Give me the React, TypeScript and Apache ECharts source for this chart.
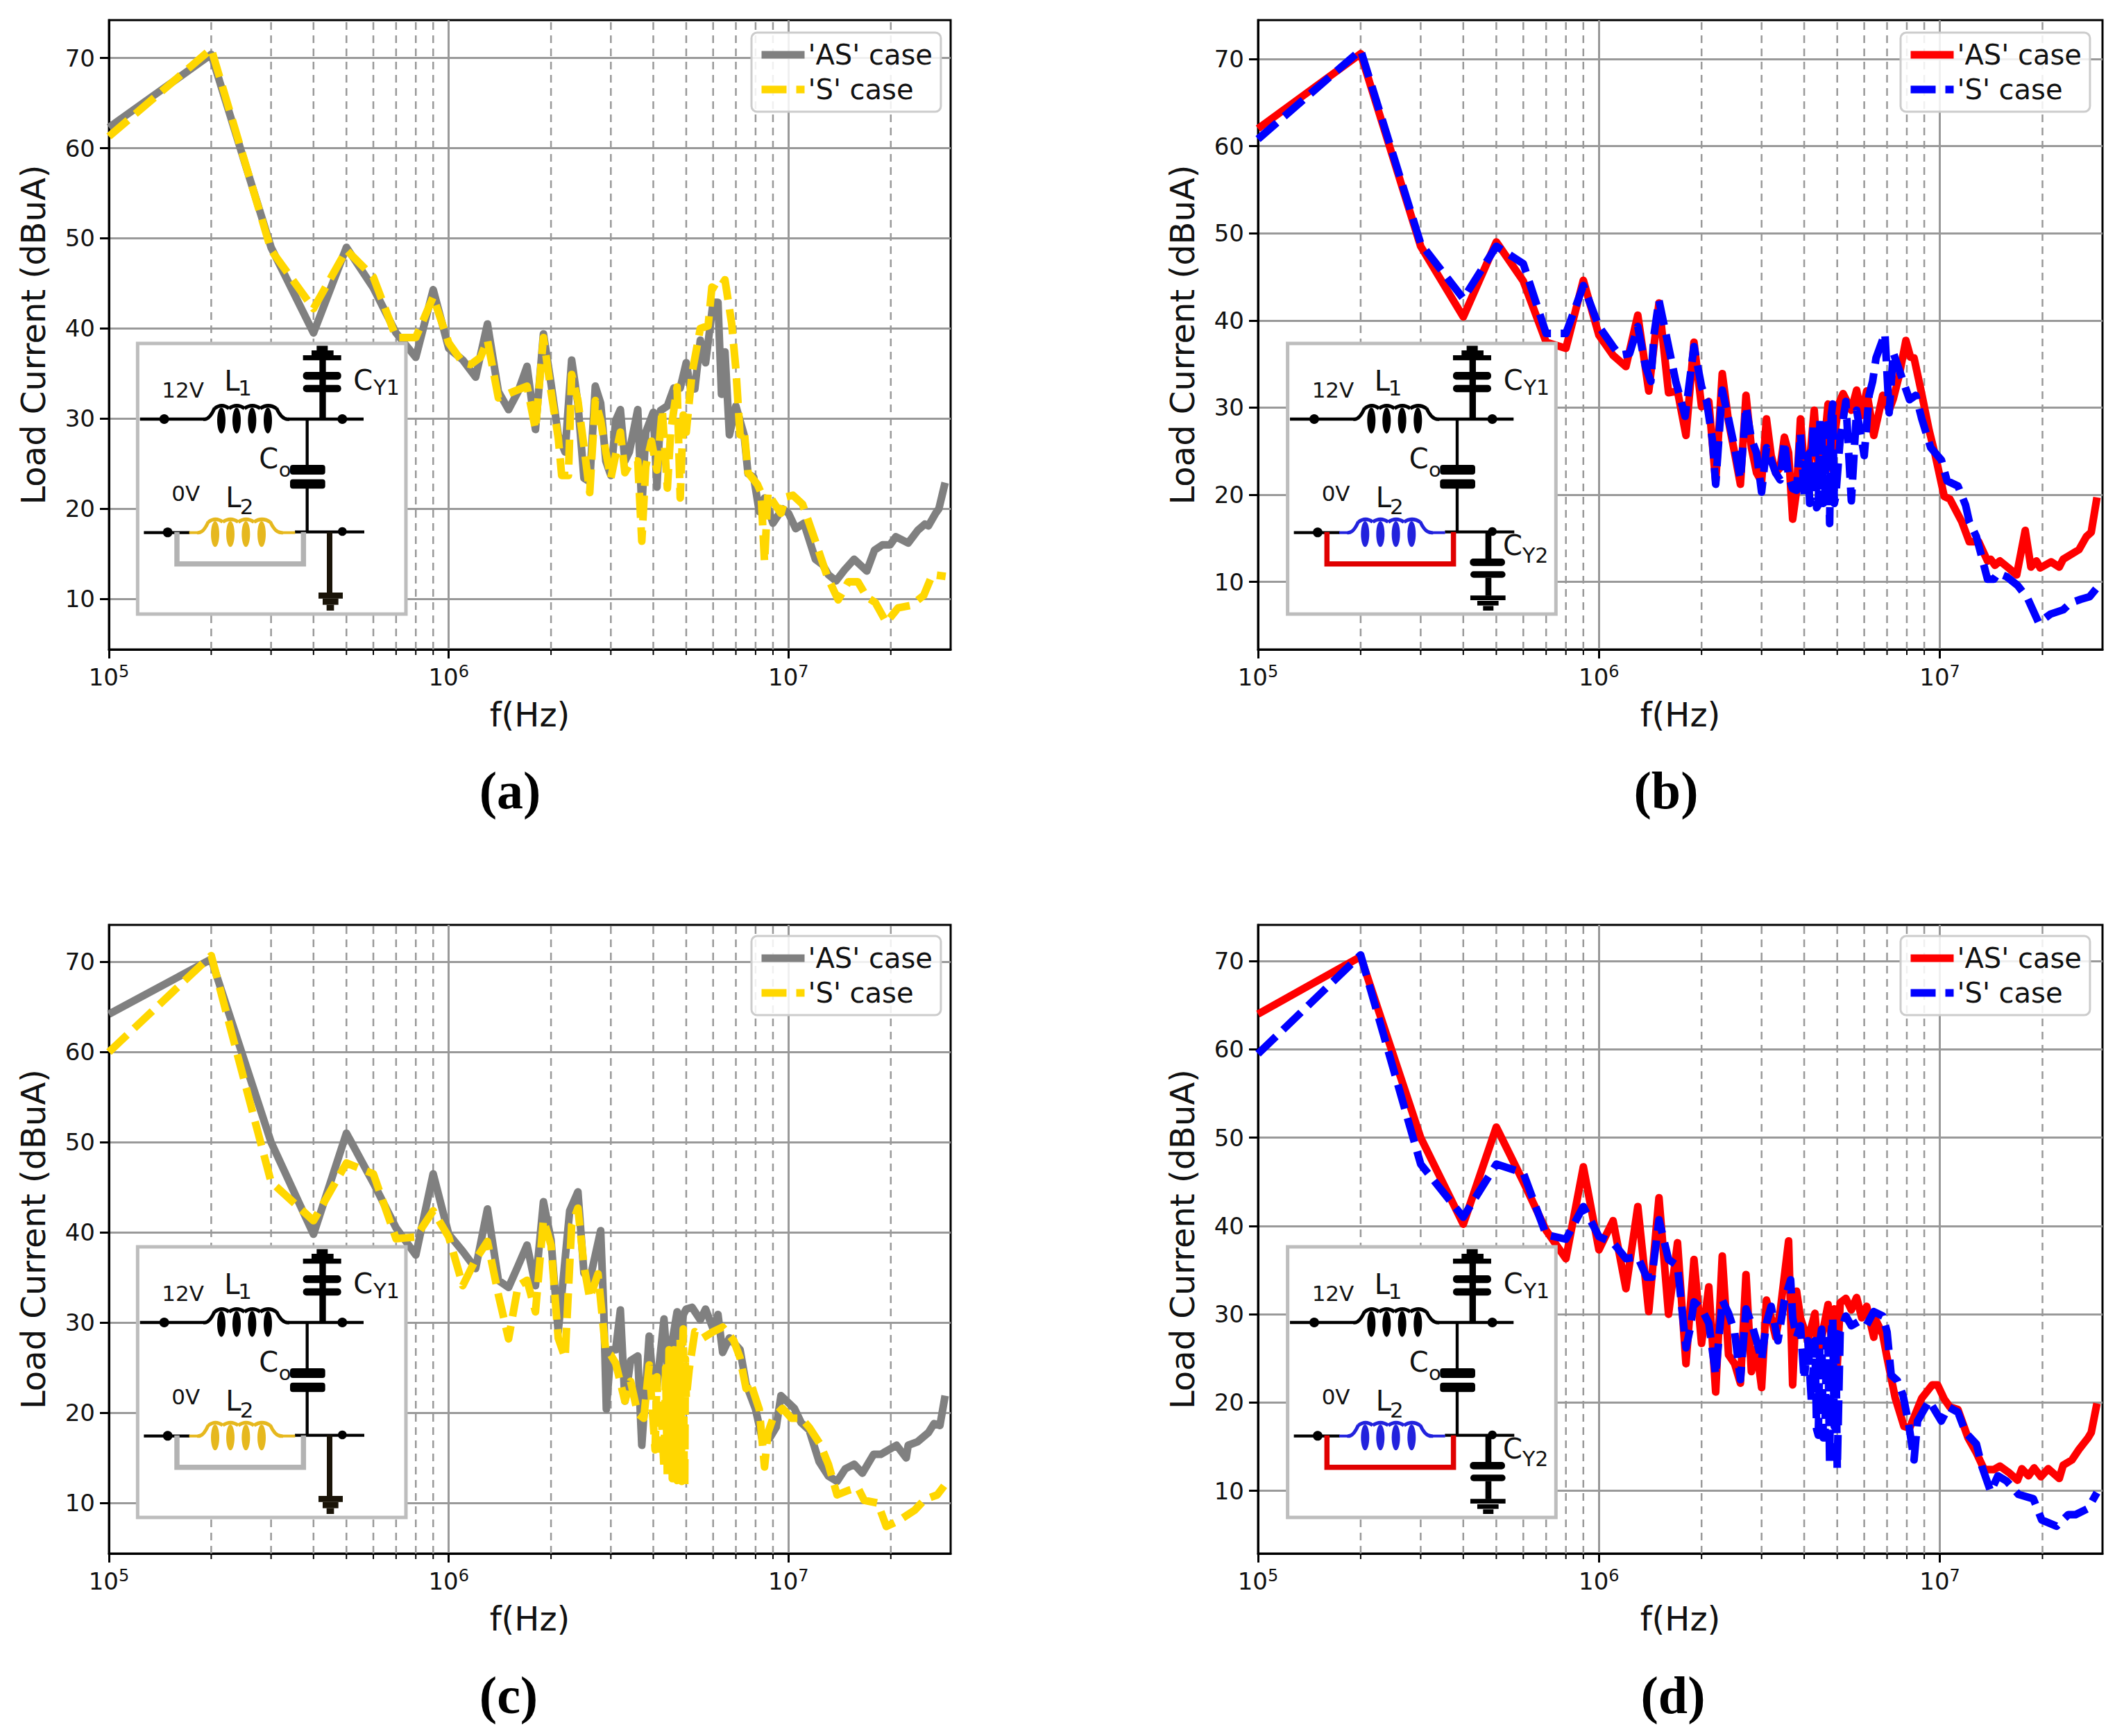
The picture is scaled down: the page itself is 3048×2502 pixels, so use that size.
import React, { useEffect, useRef } from "react";
import * as echarts from "echarts";

type P = [number, number];

// [frequency in MHz, load current in dBuA]
const A_AS: P[] = [[0.1,62.3],[0.2,70.4],[0.3,49],[0.4,39.5],[0.5,49],[0.6,44.5],[0.7,39.5],[0.8,36.8],[0.9,44.3],[1,37.8],[1.1,36.5],[1.2,34.6],[1.3,40.5],[1.4,33],[1.5,31],[1.6,33],[1.7,35.8],[1.8,28.8],[1.9,39.4],[2,33.9],[2.1,28.2],[2.2,26.3],[2.3,36.5],[2.4,31.7],[2.5,23.4],[2.6,23],[2.7,33.6],[2.8,31.7],[2.9,25.3],[3,23.7],[3.1,29.8],[3.2,31],[3.3,25.3],[3.4,26.3],[3.6,31],[3.7,20],[3.8,28.5],[4,30.7],[4.1,22.4],[4.2,30.9],[4.4,31.4],[4.6,33.4],[4.8,33.4],[5,36.2],[5.15,33.3],[5.3,33.3],[5.5,38.7],[5.7,36.2],[6,42.9],[6.2,42.9],[6.35,32.7],[6.5,37.4],[6.7,28.2],[7,31.4],[7.4,28.2],[7.6,23.9],[7.9,23.5],[8.2,19.7],[8.5,21.2],[9,18.4],[9.6,20],[10,19.5],[10.5,17.8],[11.1,18.4],[12,14.4],[12.6,13.8],[13.1,12.7],[13.8,12],[14.6,13.2],[15.6,14.4],[17,13.1],[17.9,15.4],[18.9,16],[19.9,16],[20.7,16.9],[22.5,16.2],[24,17.6],[25.2,18.3],[25.8,18.1],[27.1,19.5],[27.7,20],[28.9,22.9]];
const A_S: P[] = [[0.1,61.3],[0.2,71],[0.3,48.7],[0.4,42.2],[0.5,48.7],[0.6,45.7],[0.7,39],[0.8,39],[0.9,43.5],[1,38.4],[1.1,36.2],[1.16,36],[1.24,36.8],[1.3,38.7],[1.4,32.3],[1.55,33],[1.7,33.6],[1.8,28.8],[1.9,39],[2,33],[2.1,27.9],[2.15,23.7],[2.25,23.7],[2.3,34.9],[2.4,32],[2.5,26.9],[2.6,21.8],[2.7,32],[2.8,29.8],[2.9,26.3],[3,23.4],[3.2,28.5],[3.3,24],[3.45,25.3],[3.6,25.3],[3.7,16.4],[3.8,24.7],[3.95,27.5],[4.1,24.3],[4.25,31],[4.4,22.3],[4.5,28.5],[4.7,33.5],[4.8,21.2],[4.9,30.4],[5,28.5],[5.2,35],[5.5,40],[5.8,40.3],[5.95,44.6],[6.2,44.2],[6.5,45.4],[6.8,40.6],[7,35.5],[7.2,28.2],[7.4,28.8],[7.6,24],[8.1,22.7],[8.3,21.8],[8.5,14.1],[8.7,21.8],[9,20.8],[9.5,19.5],[9.8,21.3],[10.3,21.5],[11,20.5],[12,16.4],[13,12.5],[14,9.9],[15,11.9],[16,11.9],[17,10.2],[18,9.6],[19.4,7.4],[21,9],[23,9.3],[25,10.4],[26.5,12.7],[29,12.5]];

const B_AS: P[] = [[0.1,62],[0.2,70.6],[0.3,48.5],[0.4,40.4],[0.5,49],[0.6,44.5],[0.7,37.5],[0.8,36.8],[0.9,44.6],[1,38.3],[1.1,36],[1.2,34.7],[1.3,40.6],[1.4,31.9],[1.5,42],[1.6,31.7],[1.7,31.9],[1.8,26.8],[1.9,37.5],[2,30.1],[2.1,30.7],[2.2,21.5],[2.3,33.9],[2.4,28.4],[2.5,24.8],[2.6,21.2],[2.7,31.4],[2.8,25.4],[2.9,22.5],[3,21.5],[3.1,28.7],[3.2,24.5],[3.3,22.5],[3.4,23.1],[3.5,26.6],[3.6,24.8],[3.7,17.2],[3.8,20.5],[3.9,28.7],[4,23.1],[4.1,21.5],[4.28,29.7],[4.4,23],[4.6,26.4],[4.7,30.4],[4.8,23],[4.9,26.4],[5.05,30.4],[5.2,31.6],[5.5,29.7],[5.7,32],[5.9,29.1],[6.1,31.9],[6.4,26.8],[6.8,31.4],[7.1,29.7],[7.3,31],[7.6,33.7],[7.95,37.7],[8.2,35.8],[8.4,35.7],[8.8,32],[9.3,27.4],[9.7,24.5],[10.3,19.8],[10.7,19.5],[11.6,16.9],[12.2,14.6],[13,14.6],[13.8,12.4],[14.1,12.6],[14.5,11.9],[15,12.4],[15.9,11.6],[16.8,10.8],[17.8,15.9],[18.5,11.7],[19.2,12.4],[19.7,11.6],[21.2,12.3],[22.4,11.7],[23,12.6],[25.6,13.7],[26.9,15.2],[27.8,15.7],[28.9,19.7]];
const B_S: P[] = [[0.1,60.8],[0.2,71],[0.3,48.8],[0.4,42.5],[0.5,48.5],[0.6,46.5],[0.7,38.5],[0.8,38.5],[0.9,44],[1,39.3],[1.1,37],[1.15,36],[1.23,36.2],[1.3,39.3],[1.37,34.7],[1.42,33],[1.45,38.3],[1.5,42.3],[1.55,39.6],[1.68,33],[1.79,29],[1.9,37],[2,32.4],[2.07,30.7],[2.15,26.4],[2.2,21.2],[2.3,32],[2.4,28.7],[2.5,25.4],[2.6,21.8],[2.7,30.1],[2.8,26.4],[2.9,24.8],[3,20.3],[3.1,25.4],[3.3,22.5],[3.4,21.7],[3.5,26.1],[3.6,22.1],[3.7,20.7],[3.8,20.5],[3.9,27],[4,20],[4.05,25],[4.1,24.8],[4.15,19],[4.2,19.8],[4.25,28],[4.3,27.8],[4.35,18.5],[4.4,18.8],[4.45,28.5],[4.5,28],[4.55,19],[4.6,19.2],[4.65,28],[4.7,27],[4.75,16.7],[4.8,29],[4.85,30.4],[4.9,19],[4.95,19.8],[5.1,26.4],[5.3,30.7],[5.5,19.3],[5.7,29.7],[6,24.5],[6.2,31.4],[6.35,33],[6.5,35.7],[6.9,38.5],[7.1,29.4],[7.3,36.3],[7.65,34],[8.15,30.9],[8.5,31.4],[8.85,28.7],[9.4,25.4],[10.1,24],[10.5,21.6],[11.3,21],[11.9,18.8],[12.2,16.9],[12.8,15.2],[13.8,10.3],[14.4,10.3],[14.8,11],[15.7,10.6],[16.9,9.6],[18.1,8.1],[19.5,5.3],[21.1,6.3],[23,6.8],[24.2,7.6],[25.9,8],[27.5,8.3],[29,9.4]];

const C_AS: P[] = [[0.1,64.2],[0.2,70.3],[0.3,50],[0.4,39.8],[0.5,51],[0.6,45.5],[0.7,40.5],[0.8,37.5],[0.9,46.5],[1,39.8],[1.1,37.9],[1.2,36],[1.3,42.6],[1.4,34.7],[1.5,33.9],[1.6,36.3],[1.7,38.6],[1.8,34.1],[1.9,43.4],[2,39.2],[2.1,29],[2.27,42.4],[2.4,44.5],[2.5,35.5],[2.6,34.7],[2.8,40.2],[2.86,31.2],[2.91,20.4],[3,27],[3.1,27],[3.2,31.4],[3.3,21.3],[3.43,25.8],[3.6,26.3],[3.7,16.4],[3.89,28.5],[4,22.9],[4.1,22.9],[4.3,30.4],[4.45,22.9],[4.55,28],[4.7,31.2],[4.8,26.4],[4.9,30.9],[5,31.5],[5.2,31.7],[5.5,30.3],[5.7,31.5],[6,29.3],[6.2,30.9],[6.4,26.7],[6.7,28.3],[7.2,27],[7.5,23.2],[8,20.4],[8.4,16.8],[8.8,17.2],[9.2,18.4],[9.5,21.9],[10.4,20.5],[10.9,18.9],[11.5,18.1],[12.3,14.6],[13.1,13],[13.9,12.4],[14.7,13.8],[15.6,14.3],[16.5,13.3],[17.8,15.4],[18.7,15.4],[20.8,16.4],[22.2,15],[22.5,16.4],[24,16.8],[25.8,17.8],[26.8,18.8],[27.9,18.6],[28.9,21.9]];
const C_S: P[] = [[0.1,60],[0.2,70.7],[0.3,45.6],[0.4,41.3],[0.5,47.7],[0.6,46.5],[0.7,39.3],[0.8,39.5],[0.9,42.4],[1,39.5],[1.04,37.3],[1.1,34.1],[1.2,37],[1.3,39],[1.4,33.1],[1.5,28.2],[1.6,34.1],[1.7,34.7],[1.8,31.2],[1.9,41.4],[2,38.6],[2.1,28.3],[2.2,26.1],[2.3,40.8],[2.4,42.7],[2.5,36.3],[2.6,32.7],[2.75,35.4],[2.9,26.7],[3,26.4],[3.1,25.5],[3.3,21.3],[3.43,23.5],[3.6,19.9],[3.75,19.4],[3.89,25.3],[4.05,15.9],[4.1,24],[4.15,16],[4.2,21.6],[4.3,14],[4.35,25],[4.4,12.7],[4.45,27],[4.5,14],[4.53,26.1],[4.55,12.7],[4.6,27],[4.63,13],[4.65,25.5],[4.7,12.5],[4.73,27],[4.77,13],[4.8,28.3],[4.85,12.4],[4.88,27],[4.9,29.3],[4.93,13],[4.95,12],[4.97,26],[5,21.6],[5.1,24.8],[5.3,29],[5.6,28.3],[6,29],[6.4,29.5],[6.9,28],[7.2,26.1],[7.5,22.7],[7.7,23.5],[8.2,20.4],[8.5,14],[8.7,17.8],[9,19.4],[9.6,20.5],[10.2,19.4],[10.9,19.4],[11.5,18.4],[12.4,16.5],[13.1,14.3],[13.9,10.9],[15,11.4],[16,11.7],[16.7,10.3],[18.3,10],[19.4,7.4],[21,8],[23.5,9.2],[25.2,10.4],[27.4,10.9],[28.7,11.9]];

const D_AS: P[] = [[0.1,64],[0.2,70.5],[0.3,50],[0.4,40.2],[0.5,51.2],[0.6,45],[0.7,39.5],[0.8,36.3],[0.9,46.7],[1,37.3],[1.1,40.6],[1.2,32.9],[1.3,42.2],[1.4,30.3],[1.5,43.2],[1.6,30],[1.7,38.1],[1.8,24.4],[1.9,36.2],[2,26.7],[2.1,33.1],[2.2,21.2],[2.3,36.6],[2.4,25.4],[2.5,24.4],[2.6,22.2],[2.7,34.5],[2.8,23.5],[2.9,26.1],[3,21.7],[3.1,31.6],[3.2,29.6],[3.3,27.4],[3.4,30.3],[3.6,38.3],[3.7,22],[3.8,32.6],[3.9,29.6],[4,28.3],[4.1,27],[4.3,30.1],[4.4,25.4],[4.7,31.1],[4.8,27.4],[4.9,30.6],[5,24.1],[5.1,31.3],[5.3,31.8],[5.5,30.5],[5.7,31.9],[5.9,29.6],[6.1,30.9],[6.4,27.4],[6.5,29.3],[6.8,27.7],[7,25.1],[7.4,20.5],[7.85,17.3],[8.15,17.1],[8.85,20.5],[9.5,22],[9.85,22],[10.3,20.4],[10.7,19.5],[11.3,19.2],[12.1,16],[12.8,14.3],[13.5,12.4],[14.4,12.4],[15,12.8],[15.9,12.1],[16.9,11.2],[17.4,12.5],[18.2,11.7],[18.9,12.6],[19.8,11.6],[20.8,12.5],[22.4,11.4],[23,12.9],[24.4,13.5],[25.6,14.7],[27.2,16],[27.8,16.6],[28.9,19.9]];
const D_S: P[] = [[0.1,59.5],[0.2,70.7],[0.3,47],[0.4,41],[0.5,47],[0.6,46],[0.7,39],[0.8,38.5],[0.9,42.2],[1,38.8],[1.1,38.1],[1.2,36.3],[1.3,36.5],[1.38,34.2],[1.43,34.2],[1.5,40.7],[1.6,36.2],[1.7,35.5],[1.8,26.2],[1.85,28.3],[1.9,31.4],[2,30.6],[2.1,29],[2.2,23.1],[2.3,31.6],[2.4,30.1],[2.5,28],[2.6,22.6],[2.7,30.6],[2.8,29],[2.9,27],[3,24.8],[3.1,29],[3.2,30.9],[3.35,27],[3.5,31.6],[3.65,33.9],[3.7,29.6],[3.8,27.4],[3.9,28.7],[4,22.6],[4.1,27],[4.2,20.2],[4.3,27],[4.35,17],[4.4,16.3],[4.45,27],[4.5,28.3],[4.55,16],[4.6,16],[4.65,27],[4.7,26],[4.75,13.2],[4.8,28],[4.85,29.6],[4.9,17.3],[4.95,28],[5,12.5],[5.1,28],[5.3,29.8],[5.5,28.7],[5.8,29.2],[6.1,28.8],[6.4,30.3],[6.8,29.8],[7,28],[7.2,23.1],[7.5,22.5],[7.8,20.8],[8.1,17.6],[8.4,13.5],[8.6,17.9],[9.3,20.2],[10.1,17.9],[10.6,19.5],[11.3,18.9],[11.9,16.6],[12.8,15.3],[13.3,12.7],[14.1,9.9],[14.8,11.7],[15.7,11.1],[17,9.6],[18.8,9.1],[19.9,6.7],[22,6],[23.8,7.3],[25,7.3],[27.2,8],[28.9,9.8]];

const MINOR_FREQS = [2e5,3e5,4e5,5e5,6e5,7e5,8e5,9e5,2e6,3e6,4e6,5e6,6e6,7e6,8e6,9e6,2e7];
const MAJOR_FREQS = [1e5,1e6,1e7];
const Y_TICKS = [10,20,30,40,50,60,70];
const AS_NAME = "'AS' case";
const S_NAME = "'S' case";
const FONT = "DejaVu Sans";
const LINE_W = 11;

type Panel = {
  tag: string; ox: number; oy: number;
  left: number; right: number; top: number; bottom: number;
  yMin: number; yMax: number;
  as: P[]; s: P[]; asColor: string; sColor: string;
  labelX: number; labelY: number;
  legendX: number; legendY: number;
  boxX: number; boxY: number;
  coil: string; bypass: string; cy2: boolean;
};

const panels: Panel[] = [
  { tag: "(a)", ox: 0, oy: 0, left: 157, right: 1370, top: 29, bottom: 936, yMin: 4.4, yMax: 74.2, as: A_AS, s: A_S, asColor: "#808080", sColor: "#FFD700", labelX: 735, labelY: 1139, legendX: 1083, legendY: 47, boxX: 150, boxY: 450, coil: "#E6B81E", bypass: "#B3B3B3", cy2: false },
  { tag: "(b)", ox: 1524, oy: 0, left: 1813, right: 3030, top: 29, bottom: 936, yMin: 2.25, yMax: 74.45, as: B_AS, s: B_S, asColor: "#FF0000", sColor: "#0000FF", labelX: 2401, labelY: 1139, legendX: 2739, legendY: 47, boxX: 1807.3, boxY: 450, coil: "#2222DD", bypass: "#E00000", cy2: true },
  { tag: "(c)", ox: 0, oy: 1251, left: 157, right: 1370, top: 1333, bottom: 2239, yMin: 4.4, yMax: 74.1, as: C_AS, s: C_S, asColor: "#808080", sColor: "#FFD700", labelX: 733, labelY: 2443, legendX: 1083, legendY: 1349, boxX: 150, boxY: 1752, coil: "#E6B81E", bypass: "#B3B3B3", cy2: false },
  { tag: "(d)", ox: 1524, oy: 1251, left: 1813, right: 3030, top: 1333, bottom: 2239, yMin: 2.9, yMax: 74.1, as: D_AS, s: D_S, asColor: "#FF0000", sColor: "#0000FF", labelX: 2411, labelY: 2443, legendX: 2739, legendY: 1349, boxX: 1807.3, boxY: 1752, coil: "#2222DD", bypass: "#E00000", cy2: true },
];

function insetElements(p: Panel): any[] {
  const X = (z: number) => p.boxX - p.ox + z / 3;
  const Y = (z: number) => p.boxY - p.oy + z / 3;
  const Z = 100;
  const out: any[] = [];
  const line = (x1: number, y1: number, x2: number, y2: number, w: number, c = "#000") =>
    out.push({ type: "line", z: Z, silent: true, shape: { x1: X(x1), y1: Y(y1), x2: X(x2), y2: Y(y2) }, style: { stroke: c, lineWidth: w / 3 } });
  const bar = (x: number, y1: number, w: number, y2: number, r = 0, c = "#000") =>
    out.push({ type: "rect", z: Z, silent: true, shape: { x: X(x), y: Y(y1), width: w / 3, height: (y2 - y1) / 3, r }, style: { fill: c } });
  const dot = (x: number, y: number, r: number) =>
    out.push({ type: "circle", z: Z, silent: true, shape: { cx: X(x), cy: Y(y), r: r / 3 }, style: { fill: "#000" } });
  const label = (t: string, x: number, y: number, size: number) =>
    out.push({ type: "text", z: Z, silent: true, x: X(x), y: Y(y), style: { text: t, fontSize: size, fontFamily: FONT, fill: "#111", align: "left", verticalAlign: "middle" } });
  const coil = (dx: number, y: number, c: string) => {
    const dips = [478, 540, 607, 675, 745].map((v) => v + dx);
    const curve = (x1: number, y1: number, cx: number, cy: number, x2: number, y2: number) =>
      out.push({ type: "bezierCurve", z: Z, silent: true, shape: { x1: X(x1), y1: Y(y1), x2: X(x2), y2: Y(y2), cpx1: X(cx), cpy1: Y(cy) }, style: { stroke: c, lineWidth: 5, fill: "none" } });
    curve(430 + dx, y, 455 + dx, y + 5, dips[0], y - 48);
    for (let i = 0; i < 4; i++) curve(dips[i], y - 46, (dips[i] + dips[i + 1]) / 2, y - 70, dips[i + 1], y - 46);
    curve(dips[4], y - 48, 768 + dx, y + 5, 800 + dx, y);
    [507, 573, 640, 708].forEach((v) =>
      out.push({ type: "ellipse", z: Z, silent: true, shape: { cx: X(v + dx), cy: Y(y + 6), rx: 18 / 3, ry: 56 / 3 }, style: { fill: c } }),
    );
  };

  out.push({ type: "rect", z: Z, silent: true, shape: { x: X(145), y: Y(135), width: 1160 / 3, height: 1170 / 3 }, style: { fill: "#fff", stroke: "#BDBDBD", lineWidth: 5 } });

  // L1 branch and CY1
  line(155, 462, 432, 462, 13);
  line(798, 462, 1122, 462, 13);
  coil(0, 462, "#000");
  dot(260, 462, 21);
  dot(1030, 462, 21);
  line(945, 462, 945, 195, 28);
  bar(860, 186, 165, 208);
  bar(860, 258, 165, 292, 5);
  bar(860, 314, 165, 346, 5);
  bar(897, 165, 95, 186);
  bar(919, 145, 48, 165);

  // Co
  line(878, 462, 878, 662, 13);
  line(878, 760, 878, 950, 13);
  bar(804, 660, 152, 702, 4);
  bar(804, 722, 152, 763, 4);

  // L2 branch
  line(172, 953, 370, 953, 13);
  line(825, 950, 1125, 950, 13);
  line(368, 953, 410, 953, 12, p.coil);
  line(760, 953, 826, 953, 12, p.coil);
  coil(-27, 953, p.coil);
  dot(275, 952, 21);
  dot(1030, 948, 19);
  out.push({ type: "polyline", z: Z, silent: true, shape: { points: [[X(315), Y(950)], [X(315), Y(1088)], [X(862), Y(1088)], [X(862), Y(950)]] }, style: { stroke: p.bypass, lineWidth: 7.5, fill: "none", lineJoin: "miter" } });

  if (p.cy2) {
    line(1013, 950, 1013, 1065, 26);
    bar(933, 1065, 152, 1097, 5);
    bar(935, 1120, 152, 1148, 5);
    line(1013, 1148, 1013, 1226, 26);
    bar(935, 1225, 152, 1245);
    bar(965, 1248, 92, 1268);
    bar(990, 1270, 45, 1290);
    label("C", 1076, 1008, 40);
    label("Y2", 1160, 1052, 30);
  } else {
    line(975, 950, 975, 1215, 24, "#1A1408");
    bar(927, 1212, 105, 1238, 0, "#1A1408");
    bar(945, 1238, 68, 1265, 0, "#1A1408");
    bar(962, 1265, 32, 1290, 0, "#1A1408");
  }

  label("12V", 250, 336, 31);
  label("L", 520, 296, 40);
  label("1", 580, 326, 31);
  label("C", 1078, 293, 40);
  label("Y1", 1165, 326, 30);
  label("C", 670, 634, 40);
  label("o", 755, 680, 29);
  label("0V", 292, 782, 31);
  label("L", 526, 800, 40);
  label("2", 587, 840, 31);
  return out;
}

function buildOption(p: Panel): any {
  const gridTop = p.top - p.oy;
  const gridBottom = p.bottom - p.oy;
  const gridLeft = p.left - p.ox;
  const gridRight = p.right - p.ox;
  const toHz = (arr: P[]) => arr.map(([f, v]) => [f * 1e6, v]);
  return {
    animation: false,
    backgroundColor: "#fff",
    grid: { left: gridLeft, top: gridTop, width: gridRight - gridLeft, height: gridBottom - gridTop, show: true, borderColor: "#000", borderWidth: 3, backgroundColor: "transparent", containLabel: false, outerBoundsMode: "none" },
    legend: {
      orient: "vertical", left: p.legendX - p.ox, top: p.legendY - p.oy,
      data: [AS_NAME, S_NAME], itemWidth: 62, itemHeight: 20, itemGap: 10,
      padding: [12, 12, 12, 9], backgroundColor: "rgba(255,255,255,0.85)", borderColor: "#CCCCCC", borderWidth: 3, borderRadius: 8,
      itemStyle: { opacity: 0 }, lineStyle: { width: LINE_W },
      textStyle: { fontSize: 40, fontFamily: FONT, color: "#111" },
    },
    xAxis: {
      type: "log", logBase: 10, min: 1e5, max: 3e7,
      name: "f(Hz)", nameLocation: "middle", nameGap: 70,
      nameTextStyle: { fontSize: 48, fontFamily: FONT, color: "#111" },
      axisLine: { show: true, lineStyle: { color: "#000", width: 3 } },
      axisTick: { show: true, length: 13, lineStyle: { color: "#000", width: 3 }, customValues: MAJOR_FREQS },
      axisLabel: {
        show: true, margin: 20, customValues: MAJOR_FREQS,
        formatter: (v: number) => `{b|10}{s|${Math.round(Math.log10(v))}}`,
        rich: { b: { fontSize: 34, fontFamily: FONT, color: "#111" }, s: { fontSize: 24, fontFamily: FONT, color: "#111", padding: [0, 0, 16, 0] } },
      },
      splitLine: { show: true, lineStyle: { color: "#999999", width: 3 } },
      minorTick: { show: false }, minorSplitLine: { show: false },
    },
    yAxis: {
      type: "value", min: p.yMin, max: p.yMax,
      name: "Load Current (dBuA)", nameLocation: "middle", nameGap: 85, nameRotate: 90,
      nameTextStyle: { fontSize: 48, fontFamily: FONT, color: "#111" },
      axisLine: { show: true, lineStyle: { color: "#000", width: 3 } },
      axisTick: { show: true, length: 13, lineStyle: { color: "#000", width: 3 }, customValues: Y_TICKS },
      axisLabel: { show: true, margin: 20, fontSize: 34, fontFamily: FONT, color: "#111", customValues: Y_TICKS },
      splitLine: { show: true, lineStyle: { color: "#999999", width: 3 } },
    },
    series: [
      {
        type: "custom", name: "minor", silent: true, clip: false, z: 1,
        data: MINOR_FREQS.map((f) => [f]), encode: { x: 0 },
        renderItem: (_: any, api: any) => {
          const f = api.value(0);
          const a = api.coord([f, p.yMin]);
          const b = api.coord([f, p.yMax]);
          return {
            type: "group",
            children: [
              { type: "line", shape: { x1: a[0], y1: a[1], x2: b[0], y2: b[1] }, style: { stroke: "#999999", lineWidth: 2.5, lineDash: [11, 8] } },
              { type: "line", shape: { x1: a[0], y1: a[1], x2: a[0], y2: a[1] + 8 }, style: { stroke: "#000", lineWidth: 2 } },
            ],
          };
        },
      },
      {
        type: "line", name: AS_NAME, data: toHz(p.as), showSymbol: false, symbol: "none", z: 3,
        lineStyle: { color: p.asColor, width: LINE_W, join: "round", cap: "butt" }, itemStyle: { color: p.asColor },
      },
      {
        type: "line", name: S_NAME, data: toHz(p.s), showSymbol: false, symbol: "none", z: 4,
        lineStyle: { color: p.sColor, width: LINE_W, type: [36, 14], join: "round", cap: "butt" }, itemStyle: { color: p.sColor },
      },
    ],
    graphic: {
      elements: [
        ...insetElements(p),
        { type: "text", z: 100, silent: true, x: p.labelX - p.ox, y: p.labelY - p.oy, style: { text: p.tag, fontSize: 76, fontWeight: "bold", fontFamily: "Liberation Serif", fill: "#000", align: "center", verticalAlign: "middle" } },
      ],
    },
  };
}

function PanelChart({ panel }: { panel: Panel }) {
  const ref = useRef<HTMLDivElement>(null);
  useEffect(() => {
    const chart = echarts.init(ref.current!, undefined, { renderer: "svg", width: 1524, height: 1251 });
    chart.setOption(buildOption(panel));
    return () => chart.dispose();
  }, [panel]);
  return <div ref={ref} style={{ position: "absolute", left: panel.ox, top: panel.oy, width: 1524, height: 1251 }} />;
}

export default function App() {
  return (
    <div style={{ position: "absolute", left: 0, top: 0, width: 3048, height: 2502, background: "#fff", overflow: "hidden" }}>
      {panels.map((p) => (
        <PanelChart key={p.tag} panel={p} />
      ))}
    </div>
  );
}
